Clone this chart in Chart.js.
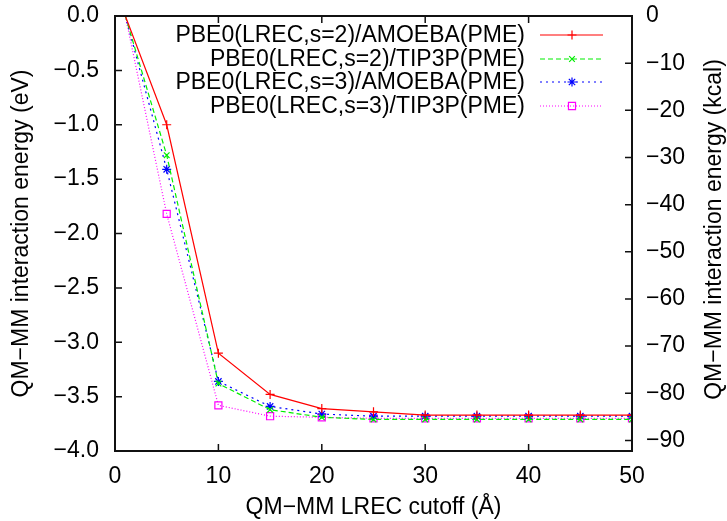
<!DOCTYPE html>
<html>
<head>
<meta charset="utf-8">
<script src="https://cdn.jsdelivr.net/npm/chart.js"></script>
<style>
  html, body { margin: 0; padding: 0; background: #fff; }
  #wrap { width: 727px; height: 521px; }
</style>
</head>
<body>
<div id="wrap"><canvas id="chart"></canvas></div>
<script>
// cutoff radius in Angstrom
const cutoffs = [1, 5, 10, 15, 20, 25, 30, 35, 40, 45, 50]

// interaction energies in eV
const s2Amoeba = [0, -1.00, -3.10, -3.48, -3.61, -3.64, -3.67, -3.67, -3.67, -3.67, -3.67]
const s2Tip3p  = [0, -1.28, -3.38, -3.62, -3.69, -3.71, -3.71, -3.71, -3.71, -3.71, -3.71]
const s3Amoeba = [0, -1.41, -3.36, -3.59, -3.66, -3.68, -3.68, -3.68, -3.68, -3.68, -3.68]
const s3Tip3p  = [0, -1.82, -3.58, -3.68, -3.69, -3.70, -3.70, -3.70, -3.70, -3.70, -3.70]

const labels = [
  'PBE0(LREC,s=2)/AMOEBA(PME)',
  'PBE0(LREC,s=2)/TIP3P(PME)',
  'PBE0(LREC,s=3)/AMOEBA(PME)',
  'PBE0(LREC,s=3)/TIP3P(PME)'
]

const xTicks = [0, 10, 20, 30, 40, 50]
const eVTicks = [0, -0.5, -1, -1.5, -2, -2.5, -3, -3.5, -4]
const kcalTicks = [0, -10, -20, -30, -40, -50, -60, -70, -80, -90]

const EV_TO_KCAL = 23.06
const FONT = '"Liberation Sans", Arial, sans-serif'
const minus = s => String(s).replace('-', '\u2212')

const toPoints = ys => ys.map((y, i) => ({ x: cutoffs[i], y: y }))

// hide the marker of the first point, it sits on the top border
const hideFirst = r => ctx => ctx.dataIndex === 0 ? 0 : r

const series = [
  { data: s2Amoeba, color: '#ff0000', dash: [], point: 'cross', r: 4.5 },
  { data: s2Tip3p, color: '#00ee00', dash: [5, 3], point: 'crossRot', r: 4 },
  { data: s3Amoeba, color: '#0000ff', dash: [2, 4], point: 'star', r: 4.5 },
  { data: s3Tip3p, color: '#ff00ff', dash: [1, 2], point: 'rect', r: 5 }
]

const datasets = series.map((s, i) => ({
  label: labels[i],
  data: toPoints(s.data),
  borderColor: s.color,
  backgroundColor: 'transparent',
  borderWidth: 1.2,
  borderDash: s.dash,
  pointStyle: s.point,
  pointRadius: hideFirst(s.r),
  pointBorderColor: s.color,
  pointBackgroundColor: 'transparent',
  pointBorderWidth: 1.2,
  tension: 0,
  yAxisID: 'y'
}))

// gnuplot like frame: border, inward ticks, legend, right axis title
const framePlugin = {
  id: 'frame',
  afterDraw(chart) {
    const { ctx, chartArea: a, scales } = chart
    const tl = 7
    ctx.save()
    ctx.strokeStyle = '#111'
    ctx.lineWidth = 1.5
    ctx.beginPath()
    xTicks.forEach(v => {
      const px = scales.x.getPixelForValue(v)
      ctx.moveTo(px, a.bottom); ctx.lineTo(px, a.bottom - tl)
      ctx.moveTo(px, a.top); ctx.lineTo(px, a.top + tl)
    })
    eVTicks.forEach(v => {
      const py = scales.y.getPixelForValue(v)
      ctx.moveTo(a.left, py); ctx.lineTo(a.left + tl, py)
    })
    kcalTicks.forEach(v => {
      const py = scales.y2.getPixelForValue(v)
      ctx.moveTo(a.right, py); ctx.lineTo(a.right - tl, py)
    })
    ctx.stroke()
    ctx.lineWidth = 2
    ctx.strokeRect(a.left, a.top, a.right - a.left, a.bottom - a.top)

    // legend, text right aligned with sample to the right
    ctx.font = '23px ' + FONT
    ctx.textAlign = 'right'
    ctx.textBaseline = 'middle'
    const rows = [35, 59, 82, 106]
    chart.data.datasets.forEach((ds, i) => {
      const y = rows[i]
      ctx.fillStyle = '#000'
      ctx.fillText(ds.label, 525, y + 1)
      ctx.strokeStyle = ds.borderColor
      ctx.lineWidth = ds.borderWidth
      ctx.setLineDash(ds.borderDash)
      ctx.beginPath()
      ctx.moveTo(540, y); ctx.lineTo(603, y)
      ctx.stroke()
      ctx.setLineDash([])
      ctx.fillStyle = 'rgba(0,0,0,0)'
      Chart.helpers.drawPoint(ctx, {
        pointStyle: ds.pointStyle,
        radius: series[i].r,
        borderWidth: ds.pointBorderWidth,
        rotation: 0
      }, 572, y)
    })

    // right axis title reads bottom to top like the left one
    ctx.fillStyle = '#000'
    ctx.textAlign = 'center'
    ctx.translate(715, (a.top + a.bottom) / 2 - 4)
    ctx.rotate(-Math.PI / 2)
    ctx.fillText('QM\u2212MM interaction energy (kcal)', 0, 0)
    ctx.restore()
  }
}

const tickFont = { family: FONT, size: 23 }

// keep the plot box where the reference has it
const fitV = w => s => { s.width = w; s.paddingTop = 0; s.paddingBottom = 0 }
const fitH = h => s => { s.height = h; s.paddingLeft = 0; s.paddingRight = 0 }

new Chart(document.getElementById('chart'), {
  type: 'line',
  data: { datasets: datasets },
  options: {
    responsive: true,
    maintainAspectRatio: false,
    animation: false,
    layout: { padding: { top: 16, left: 0, right: 0, bottom: 0 } },
    plugins: { legend: { display: false }, tooltip: { enabled: false } },
    scales: {
      x: {
        type: 'linear',
        min: 0, max: 50,
        grid: { display: false, drawTicks: false },
        border: { display: false },
        ticks: {
          stepSize: 10, padding: 12, color: '#000', font: tickFont,
          maxRotation: 0
        },
        title: {
          display: true, text: 'QM\u2212MM LREC cutoff (\u00c5)', color: '#000',
          font: { family: FONT, size: 23, lineHeight: 1 }, padding: { top: 0, bottom: 2 }
        },
        afterFit: fitH(70)
      },
      y: {
        position: 'left',
        min: -4, max: 0,
        grid: { display: false, drawTicks: false },
        border: { display: false },
        ticks: {
          stepSize: 0.5, padding: 16, color: '#000', font: tickFont,
          callback: v => minus(v.toFixed(1))
        },
        title: {
          display: true, text: 'QM\u2212MM interaction energy (eV)', color: '#000',
          font: tickFont, padding: { top: 8, bottom: 0 }
        },
        afterFit: fitV(115)
      },
      y2: {
        position: 'right',
        min: -4 * EV_TO_KCAL, max: 0,
        grid: { display: false, drawTicks: false },
        border: { display: false },
        ticks: {
          stepSize: 10, padding: 14, color: '#000', font: tickFont,
          includeBounds: false,
          callback: v => minus(v)
        },
        afterFit: fitV(95)
      }
    }
  },
  plugins: [framePlugin]
})
</script>
</body>
</html>
